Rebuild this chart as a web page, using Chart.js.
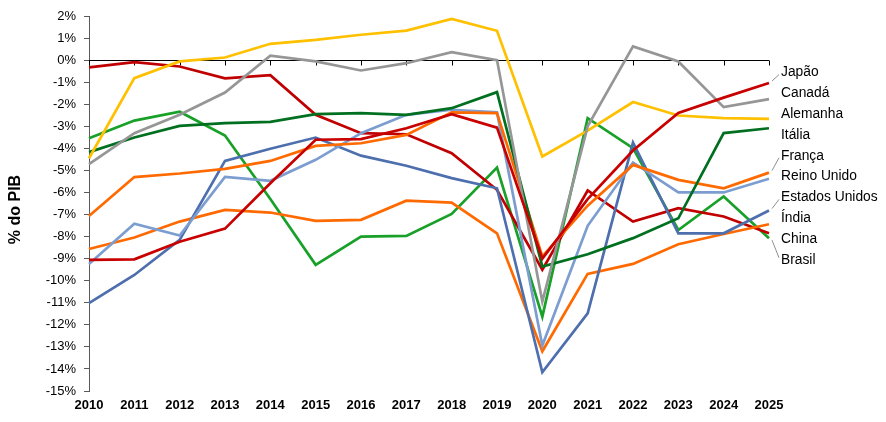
<!DOCTYPE html>
<html>
<head>
<meta charset="utf-8">
<script src="https://cdn.jsdelivr.net/npm/chart.js@4.4.1/dist/chart.umd.min.js"></script>
<style>
html,body{margin:0;padding:0;background:#fff;}
#wrap{width:886px;height:422px;position:relative;}
</style>
</head>
<body>
<div id="wrap"><canvas id="c"></canvas></div>
<script>
// ---- data (values in % of GDP) ----
const years = ['2010','2011','2012','2013','2014','2015','2016','2017','2018','2019','2020','2021','2022','2023','2024','2025'];
const yTickMin = -15;
const yTickMax = 2;
const yTickStep = 1;

const japao         = [-9.06,-9.03,-8.23,-7.64,-5.58,-3.61,-3.58,-3.09,-2.45,-3.06,-9.00,-6.30,-4.10,-2.40,-1.70,-1.04];
const canada        = [-4.72,-3.31,-2.48,-1.47, 0.20,-0.06,-0.47,-0.14, 0.36, 0.00,-10.95,-3.00, 0.62,-0.06,-2.13,-1.77];
const alemanha      = [-4.45,-0.82,-0.06, 0.12, 0.74, 0.92, 1.15, 1.34, 1.87, 1.33,-4.37,-3.20,-1.90,-2.51,-2.63,-2.66];
const italia        = [-4.17,-3.51,-2.98,-2.86,-2.80,-2.45,-2.40,-2.48,-2.18,-1.45,-9.36,-8.80,-8.07,-7.17,-3.31,-3.09];
const franca        = [-7.07,-5.30,-5.14,-4.93,-4.57,-3.89,-3.77,-3.39,-2.37,-2.40,-8.90,-6.60,-4.75,-5.43,-5.81,-5.10];
const reinoUnido    = [-9.24,-7.42,-7.95,-5.29,-5.47,-4.52,-3.31,-2.48,-2.25,-2.37,-12.94,-7.51,-4.64,-6.00,-6.00,-5.38];
const estadosUnidos = [-11.02,-9.74,-8.15,-4.57,-4.02,-3.51,-4.33,-4.79,-5.35,-5.81,-14.15,-11.48,-3.74,-7.85,-7.85,-6.82];
const india         = [-8.56,-8.04,-7.32,-6.79,-6.91,-7.29,-7.24,-6.37,-6.46,-7.85,-13.20,-9.69,-9.24,-8.35,-7.88,-7.44];
const china         = [-0.33,-0.09,-0.29,-0.83,-0.68,-2.48,-3.31,-3.36,-4.22,-5.88,-9.50,-5.91,-7.32,-6.71,-7.09,-7.85];
const brasil        = [-3.54,-2.74,-2.34,-3.42,-6.30,-9.28,-8.00,-7.97,-6.97,-4.87,-11.63,-2.63,-3.99,-7.70,-6.18,-8.07];

const seriesNames  = ['Japão','Canadá','Alemanha','Itália','França','Reino Unido','Estados Unidos','Índia','China','Brasil'];
const seriesValues = [japao, canada, alemanha, italia, franca, reinoUnido, estadosUnidos, india, china, brasil];
const seriesColors = ['#C80000','#969696','#FFC000','#007020','#FF6A00','#7C9DD0','#4E6FAE','#FF6A00','#C00000','#18A028'];

const axisTitle = '% do PIB';
const FONT = '"Liberation Sans", Arial, sans-serif';

// ---- plugins ----
const zeroLine = {
  id: 'zeroLine',
  beforeDatasetsDraw(chart) {
    const {ctx, chartArea, scales} = chart;
    const y0 = Math.round(scales.y.getPixelForValue(0)) + 0.5;
    ctx.save();
    ctx.strokeStyle = '#000';
    ctx.lineWidth = 1;
    ctx.beginPath();
    ctx.moveTo(chartArea.left, y0);
    ctx.lineTo(chartArea.right, y0);
    for (let i = 0; i < years.length; i++) {
      const x = Math.round(scales.x.getPixelForValue(i)) + 0.5;
      ctx.moveTo(x, y0);
      ctx.lineTo(x, y0 + 5);
    }
    ctx.stroke();
    ctx.restore();
  }
};

const yTitle = {
  id: 'yTitle',
  afterDraw(chart) {
    const {ctx, chartArea} = chart;
    ctx.save();
    ctx.translate(16, (chartArea.top + chartArea.bottom) / 2 + 6);
    ctx.rotate(-Math.PI / 2);
    ctx.font = 'bold 16px ' + FONT;
    ctx.fillStyle = '#000';
    ctx.textAlign = 'center';
    ctx.textBaseline = 'middle';
    ctx.fillText(axisTitle, 0, 0);
    ctx.restore();
  }
};

const endLabels = {
  id: 'endLabels',
  afterDatasetsDraw(chart) {
    const {ctx, scales} = chart;
    const ds = chart.data.datasets;
    const n = ds.length;
    const last = years.length - 1;
    const xEnd = scales.x.getPixelForValue(last);
    const ends = ds.map(d => scales.y.getPixelForValue(d.data[last]));
    const spacing = 20.8;
    const mean = ends.reduce((a, b) => a + b, 0) / n;
    const start = mean - 2.5 - spacing * (n - 1) / 2;
    const lx = xEnd + 12;
    ctx.save();
    ctx.font = '13.8px ' + FONT;
    ctx.textBaseline = 'middle';
    ctx.textAlign = 'left';
    ctx.fillStyle = '#000';
    ctx.strokeStyle = '#8f8f8f';
    ctx.lineWidth = 1;
    ds.forEach((d, i) => {
      const ly = start + i * spacing;
      const diff = ly - ends[i];
      if (Math.abs(diff) > 10) {
        const dir = diff < 0 ? -1 : 1;
        ctx.beginPath();
        ctx.moveTo(xEnd + 3, ends[i] + dir * 2);
        ctx.lineTo(lx - 2, ly - dir * 2);
        ctx.stroke();
      }
      ctx.fillText(d.label, lx, ly);
    });
    ctx.restore();
  }
};

// ---- chart ----
const datasets = seriesNames.map((name, i) => ({
  label: name,
  data: seriesValues[i],
  borderColor: seriesColors[i],
  backgroundColor: seriesColors[i],
  borderWidth: 2.7,
  pointRadius: 0,
  pointHoverRadius: 0,
  tension: 0,
  fill: false
}));

const c = document.getElementById('c');
c.width = 886; c.height = 422;

new Chart(c, {
  type: 'line',
  data: { labels: years, datasets: datasets },
  options: {
    responsive: false,
    animation: false,
    devicePixelRatio: 1,
    layout: { padding: { top: 16, right: 117, bottom: 0, left: 0 } },
    plugins: {
      legend: { display: false },
      tooltip: { enabled: false },
      title: { display: false }
    },
    scales: {
      x: {
        type: 'category',
        offset: false,
        grid: { display: false, drawTicks: false },
        border: { display: false },
        ticks: {
          color: '#000',
          padding: 7,
          maxRotation: 0,
          autoSkip: false,
          font: { family: FONT, size: 13, weight: 'bold' }
        },
        afterFit(scale) { scale.height = 31; }
      },
      y: {
        min: yTickMin,
        max: yTickMax,
        grid: { drawOnChartArea: false, drawTicks: true, tickLength: 5, color: '#5a5a5a' },
        border: { display: true, color: '#5a5a5a', width: 1 },
        ticks: {
          stepSize: yTickStep,
          color: '#000',
          padding: 8,
          font: { family: FONT, size: 13 },
          callback: v => v + '%'
        },
        afterFit(scale) { scale.width = 89; }
      }
    }
  },
  plugins: [zeroLine, endLabels, yTitle]
});
</script>
</body>
</html>
